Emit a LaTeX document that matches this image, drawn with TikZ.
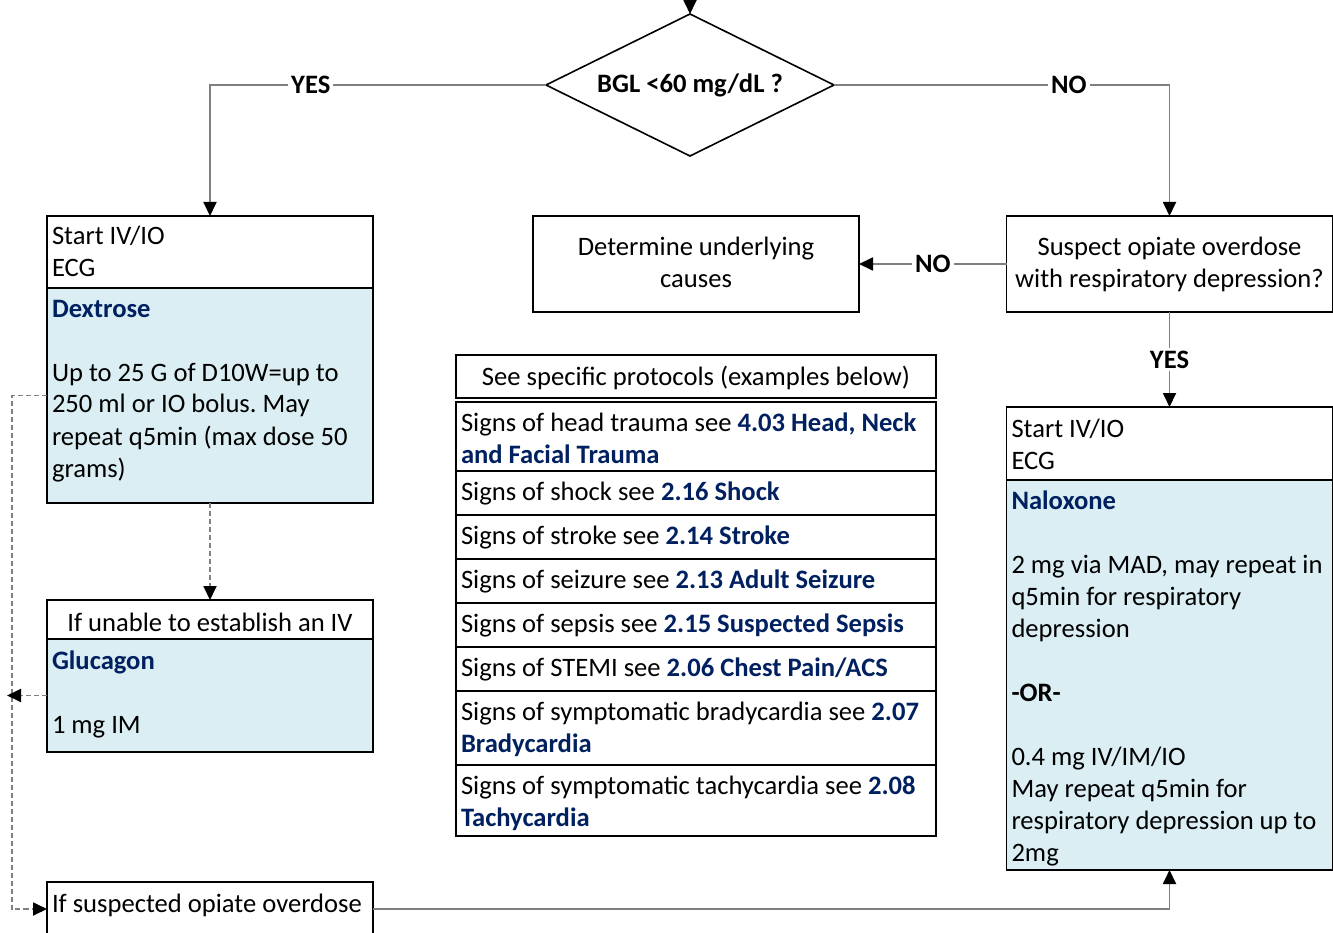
\documentclass[tikz,border=0pt]{standalone}
\usepackage{fontspec}
\setmainfont{Carlito}
\usetikzlibrary{arrows.meta,positioning,shapes.geometric}
\definecolor{medblue}{HTML}{DAEEF3}
\definecolor{protblue}{HTML}{002060}
\definecolor{linegray}{HTML}{7F7F7F}
\newcommand{\drug}[1]{\textbf{\color{protblue}#1}}
\tikzset{
  box/.style={draw,line width=1.6pt,outer sep=0pt,inner xsep=5pt,inner ysep=0pt,text width=316pt,align=left,
    execute at begin node={\spaceskip=0.226em\relax}},
  medbox/.style={box,fill=medblue},
  row/.style={box,text width=470pt},
  link/.style={draw=linegray,line width=1.8pt},
  dlink/.style={link,dash pattern=on 5pt off 3pt},
  tip/.style={-{Triangle[length=14pt,width=13pt,color=black]}},
  ans/.style={font=\bfseries,fill=white,inner sep=3pt},
}

\begin{document}
\fontsize{26.6}{32}\selectfont\frenchspacing\hyphenpenalty=10000
\begin{tikzpicture}[x=1pt,y=-1pt]
\useasboundingbox (0,0) rectangle (1333,933);
% decision
\coordinate (entry) at (690,0);
\node[draw,diamond,aspect=2,line width=1.6pt,outer sep=0pt,inner sep=0pt,minimum width=288pt,minimum height=142pt,font=\bfseries] (bgl) at (690,85) {BGL <60 mg/dL ?};

% low glucose
\node[box,text height=29pt,text depth=43pt] (ivl) at (210,252) {Start IV/IO\\ECG};
\node[medbox,below=0pt of ivl,text height=29pt,text depth=186pt] (dex) {\drug{Dextrose}\\[32pt]Up to 25 G of D10W=up to\\250 ml or IO bolus. May\\repeat q5min (max dose 50\\grams)};
\node[box,align=center,text height=31pt,text depth=8pt] (ivfail) at (210,619.5) {If unable to establish an IV};
\node[medbox,below=0pt of ivfail,text height=30pt,text depth=83pt] (glu) {\drug{Glucagon}\\[32pt]1 mg IM};
\node[box,text height=30pt,text depth=24pt] (opi) at (210,909) {If suspected opiate overdose};

% normal glucose
\node[box,align=center,text height=40pt,text depth=56pt] (cause) at (696,264) {Determine underlying\\causes};
\node[box,align=center,text height=40pt,text depth=56pt] (susp) at (1169.5,264) {Suspect opiate overdose\\with respiratory depression?};
\node[box,text height=30pt,text depth=43pt] (nalH) at (1169.5,443.5) {Start IV/IO\\ECG};
\node[medbox,below=0pt of nalH,text height=29pt,text depth=361pt] (nal) {\drug{Naloxone}\\[32pt]2 mg via MAD, may repeat in\\q5min for respiratory\\depression\\[32pt]\textbf{-OR-}\\[32pt]0.4 mg IV/IM/IO\\May repeat q5min for\\respiratory depression up to\\2mg};

% protocol list
\node[row,align=center,text height=30pt,text depth=13pt] (hdr) at (696,376.5) {See specific protocols (examples below)};
\foreach \name/\gap/\dep/\txt [remember=\name as \prev (initially hdr)] in {
  head/4pt/40pt/{Signs of head trauma see \drug{4.03 Head, Neck}\\\drug{and Facial Trauma}},
  shock/0pt/15pt/{Signs of shock see \drug{2.16 Shock}},
  stroke/0pt/15pt/{Signs of stroke see \drug{2.14 Stroke}},
  seizure/0pt/15pt/{Signs of seizure see \drug{2.13 Adult Seizure}},
  sepsis/0pt/15pt/{Signs of sepsis see \drug{2.15 Suspected Sepsis}},
  stemi/0pt/15pt/{Signs of STEMI see \drug{2.06 Chest Pain/ACS}},
  brady/0pt/45pt/{Signs of symptomatic bradycardia see \drug{2.07}\\\drug{Bradycardia}},
  tachy/0pt/42pt/{Signs of symptomatic tachycardia see \drug{2.08}\\\drug{Tachycardia}}}
  \node[row,below=\gap of \prev,text height=29pt,text depth=\dep] (\name) {\txt};

% connectors
\coordinate (rail) at (12,0);
\coordinate (railtip) at (7,0);
\draw[link,tip] (entry) -- (bgl.north);
\draw[link,tip] (bgl.west) -| node[ans,pos=0.35]{YES} (ivl.north);
\draw[link,tip] (bgl.east) -| node[ans,pos=0.35]{NO} (susp.north);
\draw[link,tip] (susp.west) -- node[ans]{NO} (cause.east);
\draw[link,tip] (susp.south) -- node[ans]{YES} (nalH.north);
\draw[dlink,tip] (dex.south) -- (ivfail.north);
\draw[dlink,tip] (dex.west) -- (dex.west -| rail) |- (opi.west);
\draw[dlink,tip] (glu.west) -- (glu.west -| railtip);
\draw[link,tip] (opi.east) -| (nal.south);
\end{tikzpicture}
\end{document}
